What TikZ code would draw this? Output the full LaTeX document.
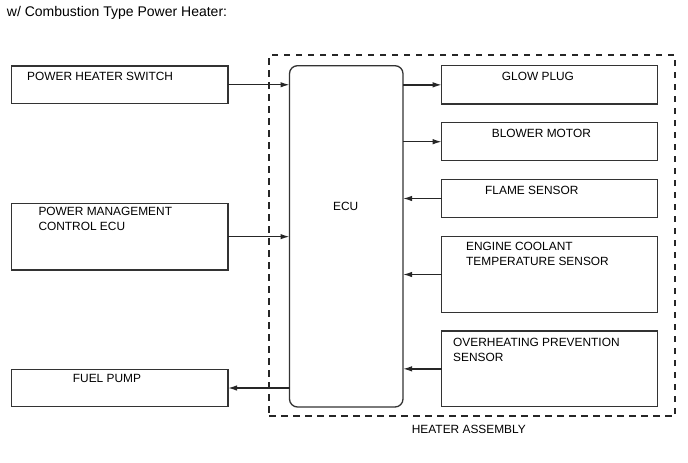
\documentclass[tikz,border=0pt]{standalone}
\usepackage{fontspec}
\setmainfont{Liberation Sans}
\usetikzlibrary{arrows.meta}
\begin{document}
\begin{tikzpicture}[x=1pt,y=-1pt,
  box/.style={draw=black!80,line width=1.3pt,inner sep=0pt,outer sep=0pt},
  lbl/.style={inner sep=0pt,anchor=base west,font=\fontsize{11.9}{15}\selectfont,align=left},
  conn/.style={draw=black!85,line width=1.3pt,-{Latex[length=9pt,width=5.5pt]}},
  asm/.style={draw=black!85,line width=1.4pt,dash pattern=on 6.5pt off 5.5pt,inner sep=0pt,outer sep=0pt}]
\useasboundingbox (0,0) rectangle (688,463);
\node[inner sep=0pt,anchor=base west,font=\fontsize{14}{16}\selectfont] (title) at (6.7,16.7) {w/ Combustion Type Power Heater:};
% heater assembly dashed box
\node[asm,minimum width=406pt,minimum height=361pt] (asm) at (472,235.5) {};
\node[lbl] (asmlbl) at (411.7,433.3) {HEATER ASSEMBLY};
% left boxes
\node[box,minimum width=216.5pt,minimum height=37.5pt] (phs) at (119.75,84.75) {};
\node[lbl] (phst) at (27,80) {POWER HEATER SWITCH};
\node[box,minimum width=216.5pt,minimum height=66.7pt] (pmc) at (119.75,236.65) {};
\node[lbl] (pmct) at (38.3,230.2) {POWER MANAGEMENT\\[-0.7pt]CONTROL ECU};
\node[box,minimum width=216.5pt,minimum height=37.4pt] (fp) at (119.75,388) {};
\node[lbl] (fpt) at (72.7,382.7) {FUEL PUMP};
% ECU
\node[box,rounded corners=8pt,minimum width=113.5pt,minimum height=341.3pt] (ecu) at (346.25,236.35) {};
\node[lbl] (ecut) at (333,210.7) {ECU};
% right boxes
\node[box,minimum width=216pt,minimum height=38.3pt] (gp) at (549.7,84.85) {};
\node[lbl] (gpt) at (501.7,80) {GLOW PLUG};
\node[box,minimum width=216pt,minimum height=38pt] (bm) at (549.7,141.7) {};
\node[lbl] (bmt) at (491.7,137) {BLOWER MOTOR};
\node[box,minimum width=216pt,minimum height=38pt] (fs) at (549.7,198.5) {};
\node[lbl] (fst) at (485,194) {FLAME SENSOR};
\node[box,minimum width=216pt,minimum height=75.6pt] (ec) at (549.7,274.5) {};
\node[lbl] (ect) at (466,265.2) {ENGINE COOLANT\\[-0.7pt]TEMPERATURE SENSOR};
\node[box,minimum width=216pt,minimum height=75.7pt] (oh) at (549.7,368.85) {};
\node[lbl] (oht) at (453,361.2) {OVERHEATING PREVENTION\\[-0.7pt]SENSOR};
% connectors
\draw[conn] (phs.east) -- (phs.east -| ecu.west);
\draw[conn] (pmc.east) -- (pmc.east -| ecu.west);
\draw[conn] (fp.east -| ecu.west) -- (fp.east);
\draw[conn] (gp.west -| ecu.east) -- (gp.west);
\draw[conn] (bm.west -| ecu.east) -- (bm.west);
\draw[conn] (fs.west) -- (fs.west -| ecu.east);
\draw[conn] (ec.west) -- (ec.west -| ecu.east);
\draw[conn] (oh.west) -- (oh.west -| ecu.east);
\end{tikzpicture}
\end{document}
